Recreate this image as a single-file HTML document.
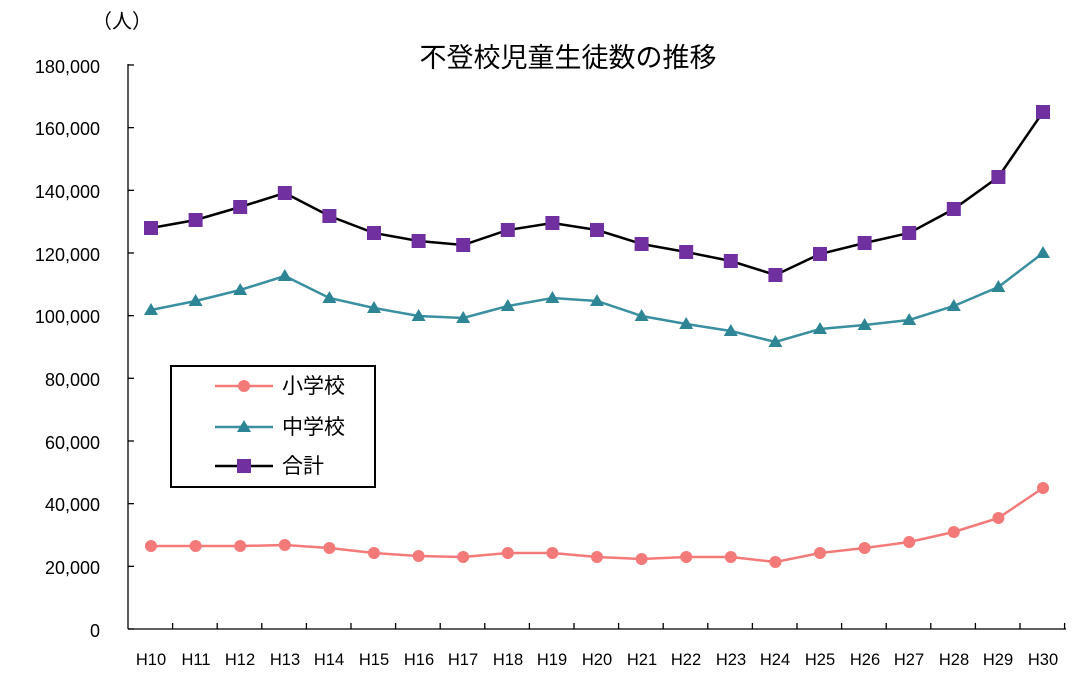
<!DOCTYPE html>
<html><head><meta charset="utf-8"><style>
body{margin:0;background:#fff}
text{font-family:"Liberation Sans","Noto Sans CJK JP",sans-serif}
</style></head><body>
<svg id="s" width="1073" height="680" xmlns="http://www.w3.org/2000/svg">
<rect width="1073" height="680" fill="#fff"/>
<text x="92" y="28" font-size="20">（人）</text>
<text x="568" y="67" font-size="27" text-anchor="middle">不登校児童生徒数の推移</text>
<g font-size="18" text-anchor="end" fill="#000">
<text x="100" y="637">0</text>
<text x="100" y="574">20,000</text>
<text x="100" y="511">40,000</text>
<text x="100" y="449">60,000</text>
<text x="100" y="386">80,000</text>
<text x="100" y="323">100,000</text>
<text x="100" y="261">120,000</text>
<text x="100" y="198">140,000</text>
<text x="100" y="135">160,000</text>
<text x="100" y="73">180,000</text>
</g>
<g font-size="16.5" text-anchor="middle">
<text x="151" y="665">H10</text><text x="196" y="665">H11</text><text x="240" y="665">H12</text><text x="285" y="665">H13</text><text x="329" y="665">H14</text><text x="374" y="665">H15</text><text x="419" y="665">H16</text><text x="463" y="665">H17</text><text x="508" y="665">H18</text><text x="552" y="665">H19</text><text x="597" y="665">H20</text><text x="642" y="665">H21</text><text x="686" y="665">H22</text><text x="731" y="665">H23</text><text x="775" y="665">H24</text><text x="820" y="665">H25</text><text x="865" y="665">H26</text><text x="909" y="665">H27</text><text x="954" y="665">H28</text><text x="998" y="665">H29</text><text x="1043" y="665">H30</text>
</g>
<g id="axes" stroke="#000" stroke-width="1.3"></g>
<g id="series"></g>
<rect x="171" y="366" width="204" height="121" fill="#fff" stroke="#000" stroke-width="2"/>
<line x1="215" y1="386" x2="273" y2="386" stroke="#f47a7a" stroke-width="2.5"/><circle cx="244" cy="386" r="6" fill="#f47a7a"/>
<line x1="215" y1="427" x2="273" y2="427" stroke="#3a8fa0" stroke-width="2.5"/><polygon points="244,420 251,432 237,432" fill="#2e8596"/>
<line x1="215" y1="466" x2="273" y2="466" stroke="#000" stroke-width="2.5"/><rect x="237" y="459" width="14" height="14" fill="#7030a0"/>
<g font-size="21"><text x="282" y="393">小学校</text><text x="282" y="434">中学校</text><text x="282" y="473">合計</text></g>
</svg>
<script>
var ns="http://www.w3.org/2000/svg",ax=document.getElementById('axes'),se=document.getElementById('series');
function el(p,t,a){var e=document.createElementNS(ns,t);for(var k in a)e.setAttribute(k,a[k]);p.appendChild(e);return e;}
el(ax,'line',{x1:128,y1:64,x2:128,y2:629});el(ax,'line',{x1:128,y1:629,x2:1066,y2:629});
for(var i=0;i<=9;i++){var y=629-i*62.67;el(ax,'line',{x1:128,y1:y,x2:134,y2:y});}
for(var i=1;i<=21;i++){var x=128+i*44.6;el(ax,'line',{x1:x,y1:629,x2:x,y2:623});}
var T=[228,220,207,193,216,233,241,245,230,223,230,244,252,261,275,254,243,233,209,177,112];
var M=[310,301,290,276,298,308,316,318,306,298,301,316,324,331,342,329,325,320,306,287,253];
var E=[546,546,546,545,548,553,556,557,553,553,557,559,557,557,562,553,548,542,532,518,488];
function X(i){return 151+i*44.6;}
function line(d,c){el(se,'polyline',{points:d.map(function(y,i){return X(i)+','+y}).join(' '),fill:'none',stroke:c,'stroke-width':2.5});}
line(E,'#f47a7a');line(M,'#3a8fa0');line(T,'#000');
E.forEach(function(y,i){el(se,'circle',{cx:X(i),cy:y,r:6,fill:'#f47a7a'});});
M.forEach(function(y,i){var x=X(i);el(se,'polygon',{points:x+','+(y-7)+' '+(x+7)+','+(y+5)+' '+(x-7)+','+(y+5),fill:'#2e8596'});});
T.forEach(function(y,i){el(se,'rect',{x:X(i)-7,y:y-7,width:14,height:14,fill:'#7030a0'});});
</script>
</body></html>
